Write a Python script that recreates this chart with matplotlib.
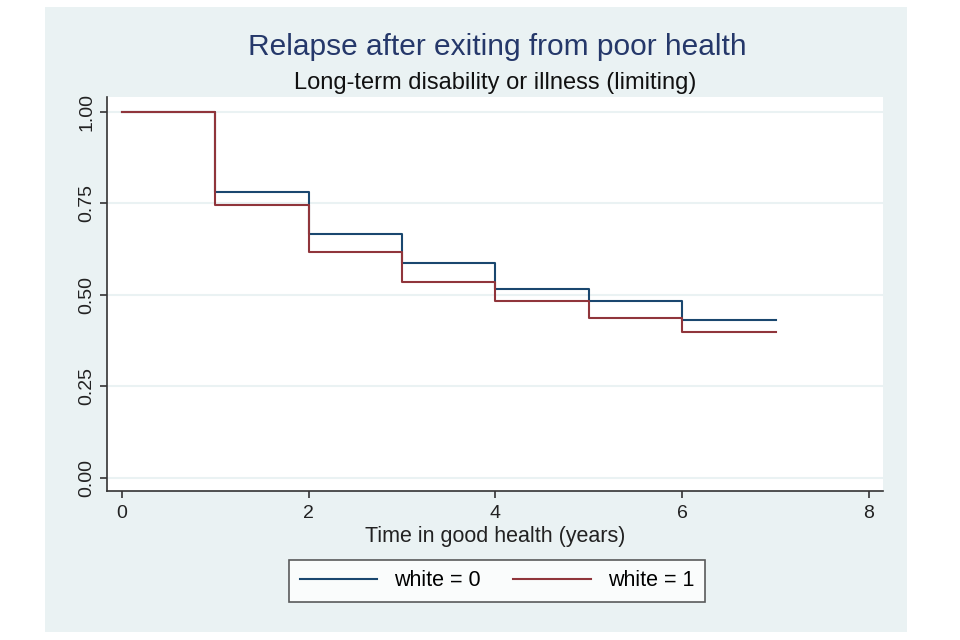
import matplotlib.pyplot as plt
from matplotlib.patches import Rectangle

plt.rcParams['font.family'] = ['Liberation Sans', 'DejaVu Sans']

# Kaplan-Meier style survival estimates
years = [0, 1, 2, 3, 4, 5, 6, 7]
surv_white0 = [1.00, 0.781, 0.667, 0.586, 0.516, 0.482, 0.432, 0.432]
surv_white1 = [1.00, 0.747, 0.617, 0.536, 0.482, 0.436, 0.398, 0.398]
labels = ['white = 0', 'white = 1']
yticks = [0.0, 0.25, 0.5, 0.75, 1.0]
xticks = [0, 2, 4, 6, 8]

bg = '#EAF2F3'
navy = '#1A476F'
maroon = '#90353B'

fig = plt.figure(figsize=(9.6, 6.4), dpi=100)
fig.patch.set_facecolor('white')
# Stata-like graph region
fig.patches.append(Rectangle((45 / 960, 1 - 632 / 640), 862 / 960, 625 / 640,
                             transform=fig.transFigure, facecolor=bg,
                             edgecolor='none', zorder=-1))

ax = fig.add_axes([107 / 960, 1 - 491 / 640, 776 / 960, 394 / 640])
ax.set_facecolor('white')

ax.step(years, surv_white0, where='post', color=navy, lw=1.5, label=labels[0])
ax.step(years, surv_white1, where='post', color=maroon, lw=1.5, label=labels[1])

ax.set_xlim(-0.16, 8.15)
ax.set_ylim(-0.036, 1.041)
ax.set_xticks(xticks)
ax.set_yticks(yticks)
ax.set_yticklabels(['%.2f' % v for v in yticks], rotation=90, va='center')
ax.tick_params(axis='both', labelsize=14, color='#333333', length=5, width=1.2,
               labelcolor='#222222')
ax.tick_params(axis='x', pad=5)
ax.yaxis.grid(True, color=bg, lw=1.5)
ax.set_axisbelow(True)

for s in ['top', 'right']:
    ax.spines[s].set_visible(False)
for s in ['left', 'bottom']:
    ax.spines[s].set_color('#333333')
    ax.spines[s].set_linewidth(1.2)

ax.set_xlabel('Time in good health (years)', fontsize=15.5, color='#222222', labelpad=3)

fig.text(497 / 960, 1 - 47 / 640, 'Relapse after exiting from poor health',
         ha='center', va='center', fontsize=21.5, color='#25386A')
fig.text(495 / 960, 1 - 83 / 640, 'Long-term disability or illness (limiting)',
         ha='center', va='center', fontsize=17, color='#111111')

leg = fig.legend(loc='center', bbox_to_anchor=(497 / 960, 1 - 581 / 640), ncol=2,
                 fontsize=15.5, frameon=True, fancybox=False, handlelength=3.6,
                 columnspacing=1.5, borderpad=0.5)
leg.get_frame().set_edgecolor('#333333')
leg.get_frame().set_linewidth(1.2)
leg.get_frame().set_facecolor('white')

fig.savefig('out.png', dpi=100, facecolor=fig.get_facecolor())
